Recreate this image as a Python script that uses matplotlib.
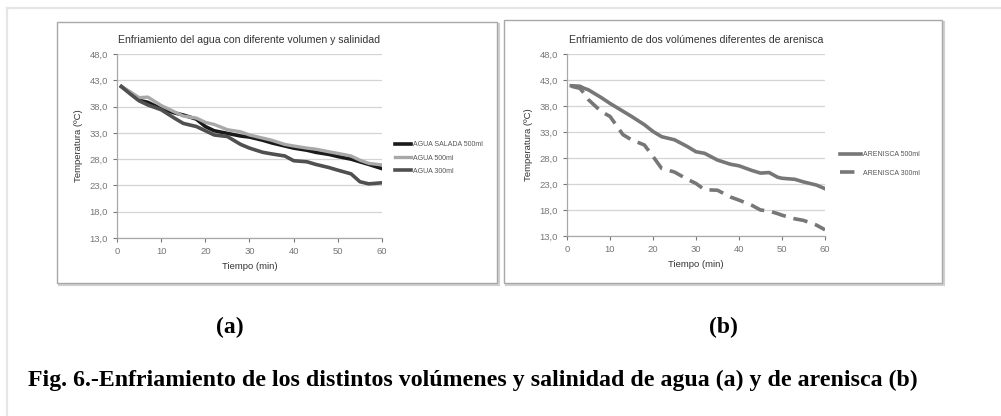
import matplotlib
matplotlib.use("Agg")
import matplotlib.pyplot as plt
from matplotlib.patches import Rectangle
from matplotlib.lines import Line2D

# ---------------- data ----------------
yticks = [13.0, 18.0, 23.0, 28.0, 33.0, 38.0, 43.0, 48.0]
xticks = [0, 10, 20, 30, 40, 50, 60]

t_a = [1, 3, 5, 7, 10, 13, 15, 18, 20, 22, 25, 28, 30, 33, 35, 38, 40, 43, 45, 48, 50, 53, 55, 57, 60]
agua_salada_500 = [41.8, 40.6, 39.2, 38.8, 37.6, 36.8, 36.4, 35.6, 34.2, 33.4, 32.9, 32.4, 32.2, 31.6, 31.1, 30.5, 30.1, 29.7, 29.3, 28.9, 28.5, 28.0, 27.5, 27.0, 26.2]
agua_500 = [41.8, 40.8, 39.7, 39.8, 38.2, 37.0, 36.2, 35.8, 35.0, 34.6, 33.6, 33.2, 32.6, 32.0, 31.6, 30.8, 30.5, 30.1, 29.9, 29.4, 29.1, 28.6, 27.8, 27.2, 26.9]
agua_300 = [41.8, 40.4, 39.1, 38.3, 37.4, 35.8, 34.8, 34.2, 33.4, 32.6, 32.3, 30.8, 30.1, 29.3, 29.0, 28.6, 27.7, 27.5, 27.0, 26.4, 25.9, 25.2, 23.7, 23.3, 23.5]

t_b = [1, 3, 4, 5, 8, 10, 13, 15, 18, 20, 22, 25, 28, 30, 32, 35, 38, 40, 43, 45, 47, 49, 50, 53, 55, 58, 60]
arenisca_500 = [41.9, 41.8, 41.4, 41.1, 39.6, 38.5, 37.0, 36.0, 34.4, 33.1, 32.1, 31.5, 30.2, 29.2, 28.9, 27.6, 26.8, 26.5, 25.6, 25.1, 25.2, 24.3, 24.1, 23.9, 23.4, 22.8, 22.1]
arenisca_300 = [41.8, 41.4, 40.4, 39.2, 36.9, 36.0, 32.5, 31.5, 30.5, 28.3, 26.0, 25.3, 23.9, 23.1, 21.9, 21.8, 20.5, 19.9, 18.9, 18.0, 17.8, 17.3, 17.0, 16.3, 16.0, 15.1, 14.2]

title_a = "Enfriamiento del agua con diferente volumen y salinidad"
title_b = "Enfriamiento de dos volúmenes diferentes de arenisca"
labels_a = ["AGUA SALADA 500ml", "AGUA 500ml", "AGUA 300ml"]
labels_b = ["ARENISCA 500ml", "ARENISCA 300ml"]
xlabel = "Tiempo (min)"
ylabel = "Temperatura (ºC)"
caption = "Fig. 6.-Enfriamiento de los distintos volúmenes y salinidad de agua (a) y de arenisca (b)"

# ---------------- figure ----------------
W, H = 1001, 416
fig = plt.figure(figsize=(W / 100, H / 100), dpi=100)
fig.patch.set_facecolor("white")

def fx(px):
    return px / W

def fy(py):
    return 1 - py / H

# outer faint frame lines
fig.add_artist(Line2D([fx(7), fx(1001)], [fy(8), fy(8)], color="#e6e6e6", lw=1.6, zorder=-2))
fig.add_artist(Line2D([fx(7), fx(7)], [fy(8), fy(416)], color="#e6e6e6", lw=1.6, zorder=-2))

# chart boxes
def chart_box(x0, y0, x1, y1):
    fig.add_artist(Rectangle((fx(x0 + 2), fy(y1 + 2)), fx(x1 - x0), (y1 - y0) / H,
                             facecolor="none", edgecolor="#d0d0d0", lw=1.5, zorder=-2))
    fig.add_artist(Rectangle((fx(x0), fy(y1)), fx(x1 - x0), (y1 - y0) / H,
                             facecolor="white", edgecolor="#a8a8a8", lw=1.0, zorder=-1))

chart_box(57, 22, 497, 283)
chart_box(504, 20, 942, 283)

font = "Liberation Sans"

def make_axes(x0, x1, ytop, ybot):
    ax = fig.add_axes([fx(x0), fy(ybot), fx(x1 - x0), (ybot - ytop) / H])
    ax.set_xlim(0, 60)
    ax.set_ylim(13, 48)
    ax.set_yticks(yticks)
    ax.set_xticks(xticks)
    ax.set_yticklabels([f"{v:.1f}".replace(".", ",") for v in yticks])
    ax.tick_params(axis="both", labelsize=6.8, colors="#777777", length=3, width=0.8)
    for lab in ax.get_xticklabels() + ax.get_yticklabels():
        lab.set_fontfamily(font)
    ax.grid(axis="y", color="#d4d4d4", lw=0.9)
    ax.set_axisbelow(True)
    for s in ("top", "right"):
        ax.spines[s].set_visible(False)
    for s in ("left", "bottom"):
        ax.spines[s].set_color("#a8a8a8")
        ax.spines[s].set_linewidth(0.9)
    ax.set_facecolor("none")
    return ax

# ---------------- chart (a) ----------------
ax1 = make_axes(117, 382, 54, 238)
ax1.plot(t_a, agua_salada_500, color="#1a1a1a", lw=2.6, label=labels_a[0])
ax1.plot(t_a, agua_500, color="#a8a8a8", lw=2.4, label=labels_a[1])
ax1.plot(t_a, agua_300, color="#505050", lw=2.6, label=labels_a[2])
ax1.set_title(title_a, fontsize=7.6, fontfamily=font, color="#333333", pad=8)
ax1.set_xlabel(xlabel, fontsize=6.8, fontfamily=font, color="#333333", labelpad=4)
ax1.set_ylabel(ylabel, fontsize=6.8, fontfamily=font, color="#333333", labelpad=5)
ax1.legend(loc="center left", bbox_to_anchor=(fx(389), fy(158)), bbox_transform=fig.transFigure,
           frameon=False, prop={"family": font, "size": 5}, handlelength=2.2,
           labelspacing=0.9, handletextpad=0.3, labelcolor="#555555")

# ---------------- chart (b) ----------------
ax2 = make_axes(567, 825, 54, 236)
ax2.plot(t_b, arenisca_500, color="#777777", lw=2.6, label=labels_b[0])
ax2.plot(t_b, arenisca_300, color="#777777", lw=2.6, ls=(0, (4, 2.2)), label=labels_b[1])
ax2.set_title(title_b, fontsize=7.6, fontfamily=font, color="#333333", pad=8)
ax2.set_xlabel(xlabel, fontsize=6.8, fontfamily=font, color="#333333", labelpad=4)
ax2.set_ylabel(ylabel, fontsize=6.8, fontfamily=font, color="#333333", labelpad=5)
ax2.legend(loc="center left", bbox_to_anchor=(fx(834), fy(164)), bbox_transform=fig.transFigure,
           frameon=False, prop={"family": font, "size": 5}, handlelength=3.0,
           labelspacing=1.6, handletextpad=0.3, labelcolor="#555555")

# ---------------- captions ----------------
fig.text(fx(230), fy(327), "(a)", ha="center", va="center", fontsize=17,
         fontweight="bold", fontfamily="Liberation Serif")
fig.text(fx(723), fy(327), "(b)", ha="center", va="center", fontsize=17,
         fontweight="bold", fontfamily="Liberation Serif")
fig.text(fx(28), fy(380), caption, ha="left", va="center", fontsize=17.2,
         fontweight="bold", fontfamily="Liberation Serif")

fig.savefig("out.png", dpi=100, facecolor="white")
